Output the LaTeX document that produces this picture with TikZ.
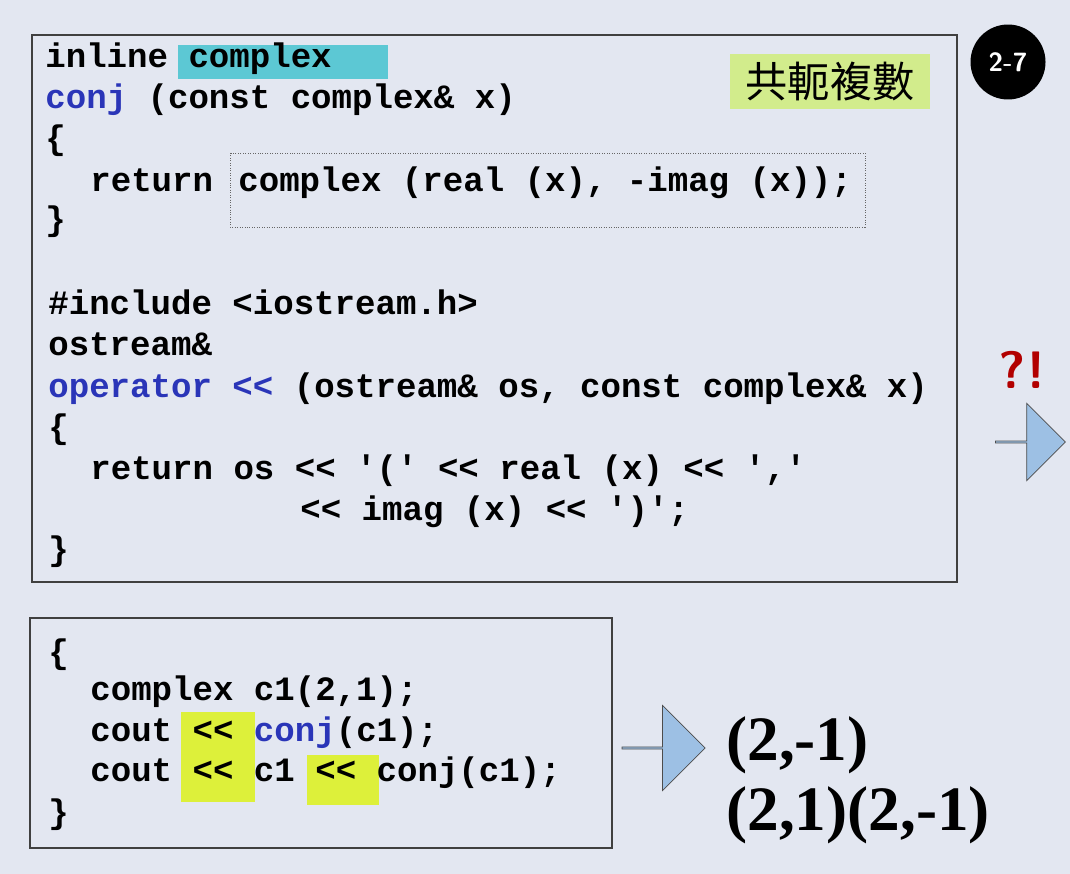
\documentclass[tikz,border=0pt]{standalone}
\usepackage{fontspec}
\setmonofont{Liberation Mono}
\setmainfont{Liberation Serif}
\newfontfamily\cjk{Noto Sans CJK TC}
\usetikzlibrary{shapes.arrows}
\definecolor{slide}{HTML}{E3E7F1}
\definecolor{kw}{HTML}{2A35B8}
\definecolor{hlcyan}{HTML}{5CC8D4}
\definecolor{hlgreen}{HTML}{D2EC8C}
\definecolor{hlyellow}{HTML}{DDF03A}
\definecolor{arrowfill}{HTML}{9DC0E4}
\newcommand{\kwd}[1]{\textcolor{kw}{#1}}
\begin{document}
\begin{tikzpicture}[x=0.02cm,y=-0.02cm,
  code/.style={anchor=base west,inner sep=0pt,font=\ttfamily\bfseries\fontsize{19.4}{23}\selectfont},
  panel/.style={draw=black!75,line width=1pt},
  blockarrow/.style={single arrow,draw=black!70,fill=arrowfill,minimum height=#1,minimum width=1.55cm,single arrow head extend=0.28cm,inner sep=0pt}]
  \fill[slide] (0,0) rectangle (1070,874);
  \useasboundingbox (0,0) rectangle (1070,874);
  % highlights
  \fill[hlcyan] (178,45) rectangle (388,79);
  \fill[hlyellow] (181,712) rectangle (255,802);
  \fill[hlyellow] (307,755) rectangle (379,805);
  % panels
  \draw[panel] (32,35) rectangle (957,582);
  \draw[panel] (30,618) rectangle (612,848);
  \draw[black!60,densely dotted] (230,153) rectangle (865,227);
  \node[fill=hlgreen,minimum width=4cm,minimum height=1.1cm,font=\cjk\fontsize{24}{28}\selectfont] (tag) at (830,82) {共軛複數};
  \node[circle,fill=black,minimum size=1.5cm,text=white,font=\sffamily\bfseries\fontsize{15}{18}\selectfont] (badge) at (1008,62) {2-7};
  % upper code
  \node[code] (l1) at (45,68) {inline complex};
  \node[code] (l2) at (45,109) {\kwd{conj} (const complex\& x)};
  \node[code] (l3) at (45,150) {\{};
  \node[code] (l4) at (90,192) {return};
  \node[code] (l4b) at (238,192) {complex (real (x), -imag (x));};
  \node[code] (l5) at (45,231) {\}};
  \node[code] (l6) at (48,315) {\#include <iostream.h>};
  \node[code] (l7) at (48,356) {ostream\&};
  \node[code] (l8) at (48,397) {\kwd{operator <<} (ostream\& os, const complex\& x)};
  \node[code] (l9) at (48,438) {\{};
  \node[code] (l10) at (90,479) {return os << '(' << real (x) << ','};
  \node[code] (l11) at (300,520) {<< imag (x) << ')';};
  \node[code] (l12) at (48,560) {\}};
  % lower code
  \node[code] (m1) at (48,663) {\{};
  \node[code] (m2) at (90,700) {complex c1(2,1);};
  \node[code] (m3) at (90,741) {cout << \kwd{conj}(c1);};
  \node[code] (m4) at (90,781) {cout << c1 << conj(c1);};
  \node[code] (m5) at (48,823) {\}};
  % arrows and results
  \node[text=red!70!black,font=\sffamily\bfseries\fontsize{30}{32}\selectfont] (mark) at (1022,370) {?!};
  \node[blockarrow=1.4cm] (arr1) at (1030,442) {};
  \node[blockarrow=1.66cm,minimum width=1.7cm] (arr2) at (663,748) {};
  \node[anchor=base west,inner sep=0pt,font=\bfseries\fontsize{36}{40}\selectfont] (out1) at (726,760) {(2,-1)};
  \node[anchor=base west,inner sep=0pt,font=\bfseries\fontsize{36}{40}\selectfont] (out2) at (726,830) {(2,1)(2,-1)};
\end{tikzpicture}
\end{document}
